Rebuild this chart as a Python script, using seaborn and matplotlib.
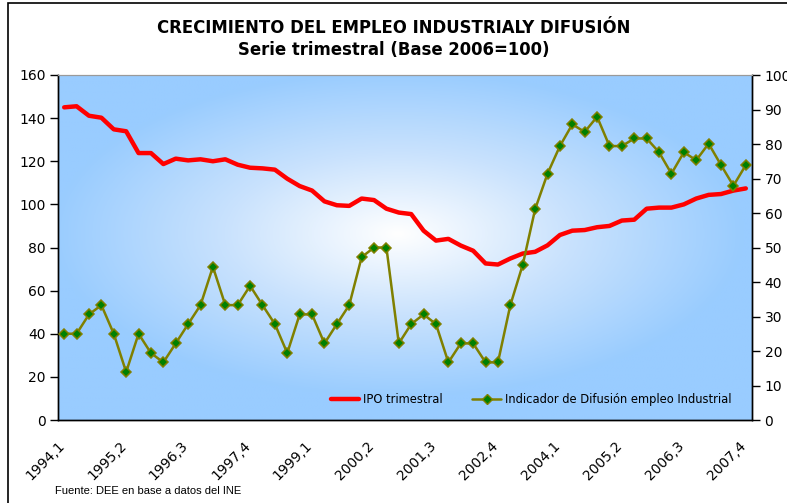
import numpy as np
import pandas as pd
import matplotlib
matplotlib.use('Agg')
import matplotlib.pyplot as plt
import matplotlib.transforms as mtransforms
import seaborn as sns
from matplotlib.colors import LinearSegmentedColormap
from matplotlib.lines import Line2D

# Quarter labels 1994,1 .. 2007,4
quarters = [f"{y},{q}" for y in range(1994, 2008) for q in range(1, 5)]

# IPO trimestral (left axis)
ipo = [145.0, 145.5, 141.1, 140.2, 134.8, 133.9, 123.8, 123.8, 118.7, 121.2,
       120.4, 120.9, 120.0, 120.9, 118.4, 117.0, 116.7, 116.1, 111.9, 108.5,
       106.4, 101.4, 99.6, 99.3, 102.7, 102.0, 98.0, 96.2, 95.5, 87.8,
       83.2, 84.0, 80.9, 78.5, 72.6, 72.1, 74.9, 77.2, 78.0, 81.0,
       85.8, 87.8, 88.1, 89.4, 90.0, 92.5, 92.9, 98.0, 98.5, 98.5,
       100.0, 102.7, 104.4, 104.8, 106.4, 107.4]

# Indicador de Difusion empleo Industrial (right axis)
difusion = [25.0, 25.0, 30.6, 33.3, 25.0, 13.9, 25.0, 19.4, 16.7, 22.2,
            27.8, 33.3, 44.4, 33.3, 33.3, 38.9, 33.3, 27.8, 19.4, 30.6,
            30.6, 22.2, 27.8, 33.3, 47.2, 50.0, 50.0, 22.2, 27.8, 30.6,
            27.8, 16.7, 22.2, 22.2, 16.7, 16.7, 33.3, 45.0, 61.1, 71.4,
            79.4, 85.7, 83.5, 87.9, 79.4, 79.4, 81.6, 81.6, 77.6, 71.4,
            77.6, 75.3, 80.1, 73.9, 67.9, 73.9]

df = pd.DataFrame({'idx': np.arange(len(quarters)), 'trimestre': quarters,
                   'ipo': ipo, 'difusion': difusion})

sns.set_style('white')
plt.rcParams['font.family'] = ['DejaVu Sans']
plt.rcParams['text.color'] = 'black'
plt.rcParams['xtick.color'] = 'black'
plt.rcParams['ytick.color'] = 'black'
plt.rcParams['axes.labelcolor'] = 'black'

fig = plt.figure(figsize=(7.87, 5.03), dpi=100)
ax = fig.add_axes([58 / 787, 1 - 420 / 503, 694 / 787, 345 / 503])

# radial gradient background (white centre -> light blue edges)
nx, ny = 300, 200
gx, gy = np.meshgrid(np.linspace(-1, 1, nx), np.linspace(-1, 1, ny))
r = np.clip(np.sqrt(((gx + 0.02) / 1.0) ** 2 + ((gy + 0.08) / 0.95) ** 2), 0, 1)
cmap = LinearSegmentedColormap.from_list('bg', ['#ffffff', '#c9e2fd', '#99ccff'])
ax.imshow(r, cmap=cmap, extent=[0, 1, 0, 1], transform=ax.transAxes,
          aspect='auto', zorder=0, interpolation='bilinear', vmin=0, vmax=1)

sns.lineplot(data=df, x='idx', y='ipo', ax=ax, color='#ff0000', linewidth=3.2,
             zorder=3, legend=False)
ax.set_xlim(-0.5, len(quarters) - 0.5)
ax.set_ylim(0, 160)
ax.set_yticks(range(0, 161, 20))

ax2 = ax.twinx()
sns.lineplot(data=df, x='idx', y='difusion', ax=ax2, color='#808000', linewidth=1.8,
             marker='D', markersize=5.5, markerfacecolor='#008000',
             markeredgecolor='#808000', markeredgewidth=1.1, zorder=4, legend=False)
ax2.set_ylim(0, 100)
ax2.set_yticks(range(0, 101, 10))
ax2.set_xlim(-0.5, len(quarters) - 0.5)

for a in (ax, ax2):
    a.set_xlabel('')
    a.set_ylabel('')
    for s in ('left', 'right', 'bottom'):
        a.spines[s].set_color('black')
        a.spines[s].set_linewidth(1.0)
    a.spines['top'].set_color('#9a9a9a')
    a.spines['top'].set_linewidth(0.8)

ax.tick_params(axis='y', direction='out', length=6, width=1, labelsize=10, color='black', pad=3)
ax2.tick_params(axis='y', direction='out', length=6, width=1, labelsize=10, color='black', pad=3)

# x ticks: boundaries as crossing minor ticks, labels every 5 quarters
ax.set_xticks(np.arange(-0.5, len(quarters), 1.0), minor=True)
ax.set_xticks(np.arange(0, len(quarters), 5))
ax.set_xticklabels([quarters[i] for i in range(0, len(quarters), 5)],
                   rotation=45, ha='right', va='top', rotation_mode='anchor', fontsize=10)
ax.tick_params(axis='x', which='minor', direction='inout', length=8, width=1, color='black')
ax.tick_params(axis='x', which='major', length=0, pad=12)
ax2.tick_params(axis='x', which='both', length=0)
shift = mtransforms.ScaledTranslation(-7 / 100, -2 / 100, fig.dpi_scale_trans)
for lbl in ax.get_xticklabels():
    lbl.set_transform(lbl.get_transform() + shift)

# title
fig.text(0.5, 1 - 28 / 503, 'CRECIMIENTO DEL EMPLEO INDUSTRIALY DIFUSIÓN',
         ha='center', va='center', fontsize=11.9, fontweight='bold')
fig.text(0.5, 1 - 50 / 503, 'Serie trimestral (Base 2006=100)',
         ha='center', va='center', fontsize=11.9, fontweight='bold')

# legend
handles = [Line2D([], [], color='#ff0000', linewidth=3.2),
           Line2D([], [], color='#808000', linewidth=1.8, marker='D', markersize=5.5,
                  markerfacecolor='#008000', markeredgecolor='#808000')]
ax2.legend(handles, ['IPO trimestral', 'Indicador de Difusión empleo Industrial'],
           loc='lower right', bbox_to_anchor=(0.985, 0.01), ncol=2, frameon=False,
           fontsize=8.3, handlelength=2.5, handletextpad=0.3, columnspacing=2.6)

# footnote
fig.text(55 / 787, 1 - 491 / 503, 'Fuente: DEE en base a datos del INE',
         ha='left', va='center', fontsize=8, family=['Liberation Sans', 'DejaVu Sans'])

# outer chart border (right/bottom edges cut off in the original)
fig.patches.append(plt.Rectangle((8 / 787, -0.1), 1.2, 1 - 3 / 503 + 0.1,
                                 transform=fig.transFigure, fill=False,
                                 edgecolor='black', linewidth=1.2))

fig.savefig('out.png', dpi=100)
